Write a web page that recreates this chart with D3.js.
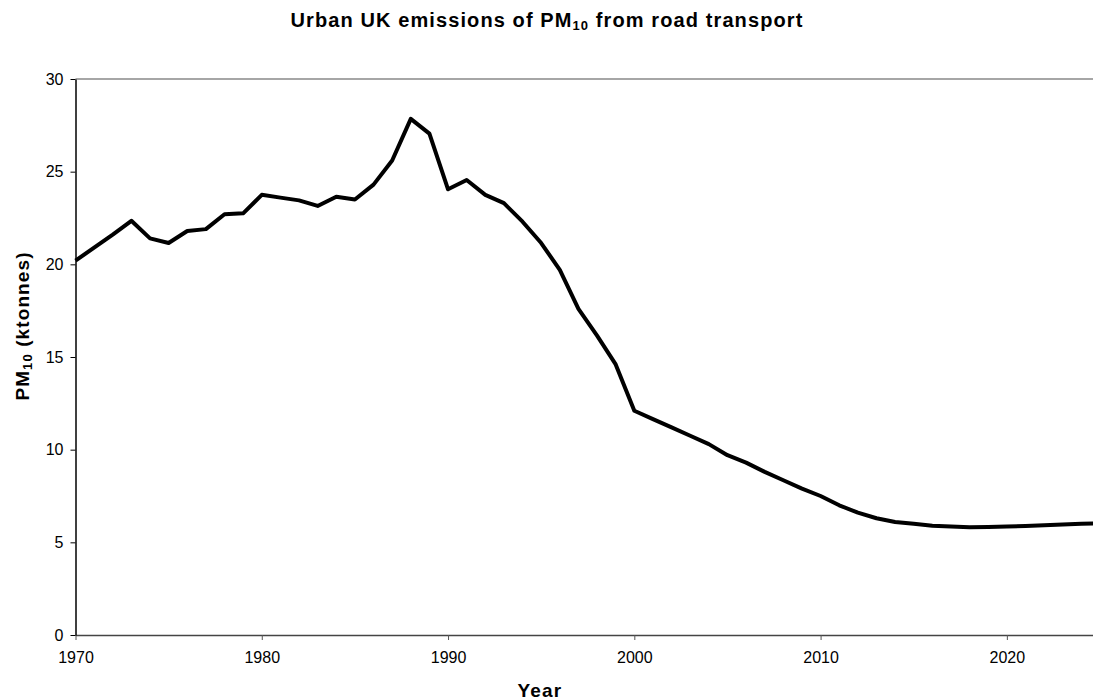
<!DOCTYPE html>
<html>
<head>
<meta charset="utf-8">
<script src="https://cdn.jsdelivr.net/npm/d3@7"></script>
<style>
  body { margin: 0; background: #fff; }
  svg text { font-family: "Liberation Sans", Arial, sans-serif; fill: #000; }
</style>
</head>
<body>
<script>
'use strict';

var width = 1093,
    height = 700,
    margin = {top: 79, right: -7, bottom: 65, left: 75.5};

// PM10 emissions, ktonnes, by year
var years = [1970, 1971, 1972, 1973, 1974, 1975, 1976, 1977, 1978, 1979,
             1980, 1981, 1982, 1983, 1984, 1985, 1986, 1987, 1988, 1989,
             1990, 1991, 1992, 1993, 1994, 1995, 1996, 1997, 1998, 1999,
             2000, 2001, 2002, 2003, 2004, 2005, 2006, 2007, 2008, 2009,
             2010, 2011, 2012, 2013, 2014, 2015, 2016, 2017, 2018, 2019,
             2020, 2021, 2022, 2023, 2024, 2025];
var pm10 = [20.2, 20.9, 21.6, 22.35, 21.4, 21.15, 21.8, 21.9, 22.7, 22.75,
            23.75, 23.6, 23.45, 23.15, 23.65, 23.5, 24.3, 25.6, 27.85, 27.05,
            24.05, 24.55, 23.75, 23.3, 22.3, 21.15, 19.7, 17.6, 16.15, 14.6,
            12.1, 11.65, 11.2, 10.75, 10.3, 9.7, 9.3, 8.8, 8.35, 7.9,
            7.5, 7.0, 6.6, 6.3, 6.1, 6.0, 5.9, 5.85, 5.82, 5.83,
            5.85, 5.88, 5.92, 5.96, 6.0, 6.03];
var yTicks = [0, 5, 10, 15, 20, 25, 30];
var xTicks = [1970, 1980, 1990, 2000, 2010, 2020];

var data = years.map(function(d, i) { return {year: d, value: pm10[i]}; });

var x = d3.scaleLinear()
  .domain([1970, 2025])
  .range([margin.left, width - margin.right]);

var y = d3.scaleLinear()
  .domain([0, 30])
  .range([height - margin.bottom, margin.top]);

var svg = d3.select("body").append("svg")
  .attr("width", width)
  .attr("height", height);

// top border of plot area
svg.append("line")
  .attr("x1", margin.left).attr("x2", width)
  .attr("y1", y(30)).attr("y2", y(30))
  .attr("stroke", "#888").attr("stroke-width", 1.5);

// x axis
var xAxis = svg.append("g")
  .attr("transform", "translate(0," + y(0) + ")")
  .call(d3.axisBottom(x).tickValues(xTicks).tickFormat(d3.format("d")).tickSize(5).tickSizeOuter(0));
xAxis.select(".domain").attr("stroke", "#444").attr("stroke-width", 1.5);
xAxis.selectAll(".tick line").attr("stroke", "#555");
xAxis.selectAll(".tick text")
  .attr("font-size", 16)
  .attr("y", 28)
  .attr("dy", 0);

// y axis
var yAxis = svg.append("g")
  .attr("transform", "translate(" + margin.left + ",0)")
  .call(d3.axisLeft(y).tickValues(yTicks).tickSize(5).tickSizeOuter(0));
yAxis.select(".domain").attr("stroke", "#000").attr("stroke-width", 1.5);
yAxis.selectAll(".tick line").attr("stroke", "#000");
yAxis.selectAll(".tick text").attr("font-size", 16).attr("x", -12);

// line
var line = d3.line()
  .x(function(d) { return x(d.year); })
  .y(function(d) { return y(d.value); });

svg.append("path")
  .datum(data)
  .attr("fill", "none")
  .attr("stroke", "#000")
  .attr("stroke-width", 4)
  .attr("stroke-linejoin", "round")
  .attr("d", line);

// title
var title = svg.append("text")
  .attr("x", 547).attr("y", 27)
  .attr("text-anchor", "middle")
  .attr("font-size", 20)
  .attr("letter-spacing", 1.1)
  .attr("font-weight", "bold");
title.append("tspan").text("Urban UK emissions of PM");
title.append("tspan").attr("font-size", 13).attr("dy", 3).text("10");
title.append("tspan").attr("dy", -3).text(" from road transport");

// axis titles
svg.append("text")
  .attr("x", 540).attr("y", 697)
  .attr("text-anchor", "middle")
  .attr("font-size", 19)
  .attr("letter-spacing", 1.2)
  .attr("font-weight", "bold")
  .text("Year");

var ylab = svg.append("text")
  .attr("transform", "translate(29,326) rotate(-90)")
  .attr("text-anchor", "middle")
  .attr("font-size", 19)
  .attr("letter-spacing", 1.1)
  .attr("font-weight", "bold");
ylab.append("tspan").text("PM");
ylab.append("tspan").attr("font-size", 13).attr("dy", 3).text("10");
ylab.append("tspan").attr("dy", -3).text(" (ktonnes)");
</script>
</body>
</html>
